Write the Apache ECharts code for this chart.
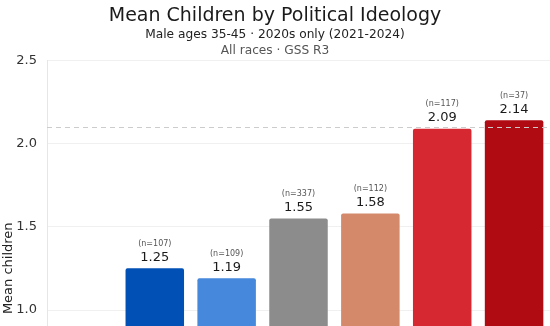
<!DOCTYPE html>
<html>
<head>
<meta charset="utf-8">
<script src="https://cdn.jsdelivr.net/npm/echarts@6/dist/echarts.min.js"></script>
<style>
html,body{margin:0;padding:0;overflow:hidden;background:#fff;}
#c{width:550px;height:560px;}
</style>
</head>
<body>
<div id="c"></div>
<script>
const categories = ["Extremely liberal","Liberal","Slightly liberal","Moderate","Slightly conservative","Conservative","Extremely conservative"];
const meanChildren = [0.65, 1.25, 1.19, 1.55, 1.58, 2.09, 2.14];
const sampleSizes = [30, 107, 109, 337, 112, 117, 37];
const barColors = ["#1f3f8f","#0050b5","#4688dc","#8c8c8c","#d4896a","#d62830","#b00b12"];
const replacementLevel = 2.1;
const yTicks = [0, 0.5, 1.0, 1.5, 2.0, 2.5];

const chart = echarts.init(document.getElementById('c'), null, {renderer:'canvas'});
const font = "'DejaVu Sans', sans-serif";
chart.setOption({
  animation:false,
  textStyle:{fontFamily:font},
  title:[
    {text:'Mean Children by Political Ideology', left:'center', top:2,
     textStyle:{fontFamily:font, fontSize:19, fontWeight:'normal', color:'#1a1a1a'}},
    {text:'Male ages 35-45 · 2020s only (2021-2024)', left:'center', top:24,
     textStyle:{fontFamily:font, fontSize:12.2, fontWeight:'normal', color:'#222'}},
    {text:'All races · GSS R3', left:'center', top:40,
     textStyle:{fontFamily:font, fontSize:12.2, fontWeight:'normal', color:'#555'}}
  ],
  grid:{left:47, right:0, top:60.5, height:415.5, containLabel:false, outerBoundsMode:'none'},
  xAxis:{type:'category', data:categories,
    axisLine:{show:true, lineStyle:{color:'#e6e6e6'}}, axisTick:{show:false},
    axisLabel:{fontFamily:font, fontSize:12, color:'#333'}},
  yAxis:{type:'value', min:yTicks[0], max:yTicks[yTicks.length-1], interval:0.5,
    name:'Mean children', nameLocation:'middle', nameGap:32, nameMoveOverlap:false,
    nameTextStyle:{fontFamily:font, fontSize:13, color:'#222'},
    axisLine:{show:true, lineStyle:{color:'#e6e6e6'}}, axisTick:{show:false},
    axisLabel:{fontFamily:font, fontSize:13, color:'#333', margin:10,
      formatter:v=>v.toFixed(1)},
    splitLine:{show:true, lineStyle:{color:'#f0f0f0', width:1}}},
  series:[{
    type:'bar', barWidth:58.5,
    data:meanChildren.map((v,i)=>({value:v, itemStyle:{color:barColors[i]}})),
    itemStyle:{borderRadius:[2,2,0,0]},
    label:{show:true, position:'top', distance:3,
      formatter:p=>'{n|(n='+sampleSizes[p.dataIndex]+')}\n{v|'+p.value.toFixed(2)+'}',
      rich:{
        n:{fontFamily:font, fontSize:8, color:'#555', lineHeight:11, align:'center'},
        v:{fontFamily:font, fontSize:13, color:'#1a1a1a', lineHeight:16, align:'center'}
      }},
    markLine:{silent:true, symbol:'none', label:{show:false},
      lineStyle:{color:'#cccccc', type:[5,4], width:1},
      data:[{yAxis:replacementLevel}]}
  }]
});
</script>
</body>
</html>
